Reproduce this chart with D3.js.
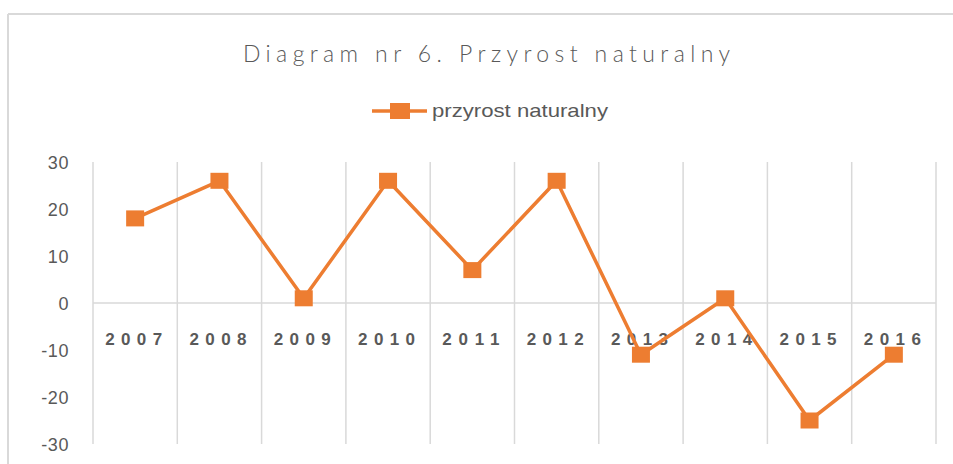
<!DOCTYPE html>
<html>
<head>
<meta charset="utf-8">
<script src="https://cdn.jsdelivr.net/npm/d3@7"></script>
<style>
  html, body { margin: 0; padding: 0; background: #fff; }
  svg { display: block; }
</style>
</head>
<body>
<svg id="chart" width="953" height="464"></svg>
<script>
const years = ["2007","2008","2009","2010","2011","2012","2013","2014","2015","2016"];
const values = [18, 26, 1, 26, 7, 26, -11, 1, -25, -11];
const yTicks = [30, 20, 10, 0, -10, -20, -30];
const seriesName = "przyrost naturalny";
const titleText = "Diagram nr 6. Przyrost naturalny";

const svg = d3.select("#chart");
const orange = "#ED7D31";
const grid = "#d9d9d9";
const textCol = "#595959";

// chart border (top & left visible)
svg.append("line").attr("x1", 8).attr("x2", 953).attr("y1", 14).attr("y2", 14)
  .attr("stroke", grid).attr("stroke-width", 2);
svg.append("line").attr("x1", 8).attr("x2", 8).attr("y1", 14).attr("y2", 464)
  .attr("stroke", grid).attr("stroke-width", 2);

const x = d3.scaleBand().domain(years).range([93, 936]);
const y = d3.scaleLinear().domain([-30, 30]).range([444, 162]);

// vertical gridlines at category boundaries
const bounds = years.map(d => x(d)).concat([x.range()[1]]);
svg.append("g").selectAll("line").data(bounds).join("line")
  .attr("x1", d => d).attr("x2", d => d)
  .attr("y1", y(30)).attr("y2", y(-30))
  .attr("stroke", grid).attr("stroke-width", 1.5);

// zero axis line
svg.append("line").attr("x1", x.range()[0]).attr("x2", x.range()[1])
  .attr("y1", y(0)).attr("y2", y(0))
  .attr("stroke", grid).attr("stroke-width", 1.5);

// y axis labels
const yAxis = d3.axisLeft(y).tickValues(yTicks).tickSize(0).tickPadding(0).tickFormat(d => String(d));
const gy = svg.append("g").attr("transform", "translate(69,0)").call(yAxis);
gy.select(".domain").remove();
gy.selectAll("text")
  .attr("fill", textCol)
  .attr("font-family", "Liberation Sans, Arial, sans-serif")
  .attr("font-size", 18)
  .attr("letter-spacing", "0.6px")
  .attr("dy", "0.35em");

// category labels
svg.append("g").selectAll("text").data(years).join("text")
  .attr("x", d => x(d) + x.bandwidth() / 2 - 1.5)
  .attr("y", y(0) + 42)
  .attr("text-anchor", "middle")
  .attr("fill", textCol)
  .attr("font-family", "Liberation Sans, Arial, sans-serif")
  .attr("font-weight", "bold")
  .attr("font-size", 17)
  .attr("textLength", 57)
  .attr("lengthAdjust", "spacing")
  .text(d => d);

// line
const line = d3.line().x((d, i) => x(years[i]) + x.bandwidth() / 2).y(d => y(d));
svg.append("path").datum(values)
  .attr("d", line).attr("fill", "none")
  .attr("stroke", orange).attr("stroke-width", 3.5)
  .attr("stroke-linejoin", "round");

// markers
svg.append("g").selectAll("rect").data(values).join("rect")
  .attr("x", (d, i) => x(years[i]) + x.bandwidth() / 2 - 9)
  .attr("y", d => y(d) - 8)
  .attr("width", 18).attr("height", 16)
  .attr("fill", orange);

// title
svg.append("text")
  .attr("x", 243).attr("y", 62)
  .attr("fill", textCol)
  .attr("font-family", "Lato, 'Open Sans', sans-serif")
  .attr("font-weight", 300)
  .attr("font-size", 23)
  .attr("textLength", 487)
  .attr("lengthAdjust", "spacing")
  .text(titleText);

// legend
const lg = svg.append("g");
lg.append("line").attr("x1", 372).attr("x2", 427).attr("y1", 111).attr("y2", 111)
  .attr("stroke", orange).attr("stroke-width", 3.5);
lg.append("rect").attr("x", 390).attr("y", 103).attr("width", 20).attr("height", 16).attr("fill", orange);
lg.append("text")
  .attr("x", 432).attr("y", 117)
  .attr("fill", textCol)
  .attr("font-family", "Liberation Sans Narrow, Liberation Sans, Arial, sans-serif")
  .attr("font-size", 19)
  .attr("textLength", 176)
  .attr("lengthAdjust", "spacingAndGlyphs")
  .text(seriesName);
</script>
</body>
</html>
